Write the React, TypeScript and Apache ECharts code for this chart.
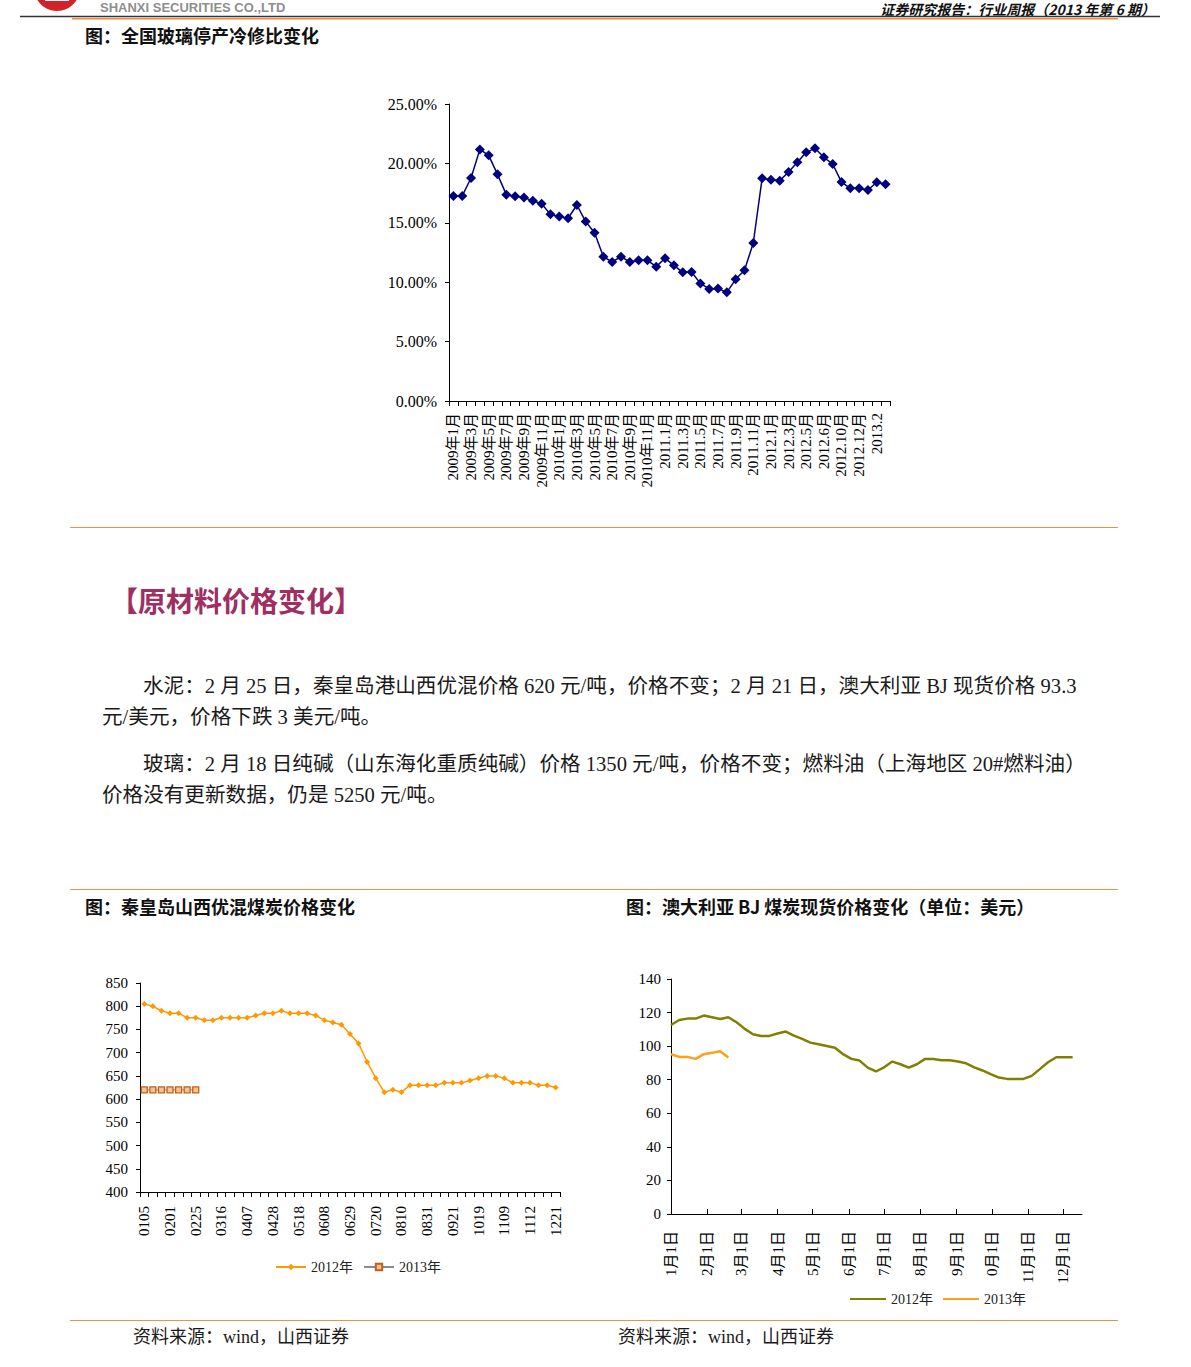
import React, { useEffect, useRef } from "react";
import * as echarts from "echarts";

// ---------- Chart 1: 全国玻璃停产冷修比 ----------
const GLASS_CATEGORIES = [
  "2009年1月", "2009年2月", "2009年3月", "2009年4月", "2009年5月", "2009年6月",
  "2009年7月", "2009年8月", "2009年9月", "2009年10月", "2009年11月", "2009年12月",
  "2010年1月", "2010年2月", "2010年3月", "2010年4月", "2010年5月", "2010年6月",
  "2010年7月", "2010年8月", "2010年9月", "2010年10月", "2010年11月", "2010年12月",
  "2011.1月", "2011.2月", "2011.3月", "2011.4月", "2011.5月", "2011.6月",
  "2011.7月", "2011.8月", "2011.9月", "2011.10月", "2011.11月", "2011.12月",
  "2012.1月", "2012.2月", "2012.3月", "2012.4月", "2012.5月", "2012.5月下",
  "2012.6月", "2012.8月", "2012.10月", "2012.11月", "2012.12月", "2013.1",
  "2013.2", "2013.3",
];
const GLASS_RATIO = [
  17.26, 17.26, 18.77, 21.18, 20.68, 19.08, 17.37, 17.23, 17.12, 16.86,
  16.61, 15.71, 15.52, 15.38, 16.5, 15.1, 14.17, 12.15, 11.7, 12.15,
  11.7, 11.84, 11.84, 11.31, 12.01, 11.42, 10.83, 10.86, 9.9, 9.43,
  9.46, 9.15, 10.24, 11.0, 13.3, 18.74, 18.63, 18.55, 19.28, 20.09,
  20.93, 21.27, 20.51, 19.95, 18.43, 17.9, 17.9, 17.76, 18.41, 18.24,
];

// ---------- Chart 2: 秦皇岛山西优混煤炭价格 ----------
const COAL_DATES = [
  "0105", "0112", "0119", "0201", "0208", "0215", "0225", "0302", "0309", "0316",
  "0323", "0330", "0407", "0414", "0421", "0428", "0505", "0511", "0518", "0525",
  "0601", "0608", "0615", "0622", "0629", "0706", "0713", "0720", "0727", "0803",
  "0810", "0817", "0824", "0831", "0907", "0914", "0921", "0928", "1012", "1019",
  "1026", "1102", "1109", "1110", "1111", "1112", "1207", "1214", "1221",
];
const COAL_2012 = [
  805, 800, 790, 785, 785, 775, 775, 770, 770, 775,
  775, 775, 775, 780, 785, 785, 790, 785, 785, 785,
  780, 770, 765, 760, 740, 720, 680, 645, 615, 620,
  615, 630, 630, 630, 630, 635, 635, 635, 640, 645,
  650, 650, 645, 635, 635, 635, 630, 630, 625,
];
const COAL_2013 = [620, 620, 620, 620, 620, 620, 620];

// ---------- Chart 3: 澳大利亚 BJ 煤炭现货价格 ----------
const BJ_DAYS = [
  0, 7, 14, 21, 28, 35, 42, 49, 56, 63,
  70, 77, 84, 91, 98, 105, 112, 119, 126, 133,
  140, 147, 154, 161, 168, 175, 182, 189, 196, 203,
  210, 217, 224, 231, 238, 245, 252, 259, 266, 273,
  280, 287, 294, 301, 308, 315, 322, 329, 336, 343,
];
const BJ_2012 = [
  112.6, 115.6, 116.4, 116.4, 118.2, 117.2, 116.2, 117.2, 114.2, 110.3,
  107.1, 106.1, 106.1, 107.5, 108.7, 106.3, 104.3, 102.1, 101.1, 100.1,
  99.1, 95.2, 92.4, 91.4, 87.2, 84.9, 87.4, 90.8, 89.2, 87.2,
  89.2, 92.4, 92.4, 91.6, 91.6, 90.8, 89.8, 87.4, 85.5, 83.3,
  81.3, 80.5, 80.5, 80.5, 82.3, 86.3, 90.4, 93.4, 93.4, 93.4,
];
const BJ_2013 = [95.2, 93.6, 93.6, 92.4, 95.2, 96.0, 97.0, 93.3];
const MONTH_START_DAYS = [0, 31, 60, 91, 121, 152, 182, 213, 244, 274, 305, 335];
const MONTH_LABELS = [
  "1月1日", "2月1日", "3月1日", "4月1日", "5月1日", "6月1日",
  "7月1日", "8月1日", "9月1日", "0月1日", "11月1日", "12月1日",
];

// ---------- Page texts ----------
const PARA_LINES = [
  "水泥：2 月 25 日，秦皇岛港山西优混价格 620 元/吨，价格不变；2 月 21 日，澳大利亚 BJ 现货价格 93.3",
  "元/美元，价格下跌 3 美元/吨。",
  "玻璃：2 月 18 日纯碱（山东海化重质纯碱）价格 1350 元/吨，价格不变；燃料油（上海地区 20#燃料油）",
  "价格没有更新数据，仍是 5250 元/吨。",
];

const SERIF = "'Liberation Serif', 'Noto Sans CJK SC', serif";
const SANS = "'Noto Sans CJK SC', 'Liberation Sans', sans-serif";
const ORANGE_RULE = "#EE9150";

function axisBase() {
  return {
    axisLine: { show: true, onZero: false, lineStyle: { color: "#000", width: 1 } },
    splitLine: { show: false },
  };
}

export default function App() {
  const ref = useRef<HTMLDivElement>(null);

  useEffect(() => {
    if (!ref.current) return;
    const chart = echarts.init(ref.current, undefined, { renderer: "svg" });

    const txt = (
      text: string,
      x: number,
      y: number,
      opts: Record<string, any> = {}
    ) => ({
      type: "text",
      x,
      y,
      silent: true,
      style: {
        text,
        fill: opts.fill || "#111",
        fontSize: opts.fontSize || 16,
        fontFamily: opts.fontFamily || SANS,
        fontWeight: opts.fontWeight || "normal",
        fontStyle: opts.fontStyle || "normal",
        align: opts.align || "left",
        verticalAlign: "middle",
      },
    });
    const rule = (x1: number, y: number, x2: number, stroke: string, lw = 1) => ({
      type: "line",
      silent: true,
      shape: { x1, y1: y, x2, y2: y },
      style: { stroke, lineWidth: lw },
    });

    const option: any = {
      animation: false,
      backgroundColor: "#fff",
      grid: [
        { left: 449, top: 104, width: 441, height: 297 },
        { left: 140, top: 983, width: 420, height: 209 },
        { left: 671, top: 979, width: 411, height: 235 },
      ],
      xAxis: [
        {
          type: "category",
          gridIndex: 0,
          data: GLASS_CATEGORIES,
          boundaryGap: true,
          ...axisBase(),
          axisTick: { show: true, interval: 0, length: 5, lineStyle: { color: "#000" } },
          axisLabel: {
            interval: 1,
            rotate: 90,
            margin: 12,
            fontSize: 15,
            fontFamily: SERIF,
            color: "#000",
          },
        },
        {
          type: "category",
          gridIndex: 1,
          data: COAL_DATES,
          boundaryGap: true,
          ...axisBase(),
          axisTick: { show: true, interval: 0, length: 5, lineStyle: { color: "#000" } },
          axisLabel: {
            interval: 2,
            rotate: 90,
            margin: 14,
            fontSize: 15,
            fontFamily: SERIF,
            color: "#000",
          },
        },
        {
          type: "value",
          gridIndex: 2,
          min: 0,
          max: 351,
          ...axisBase(),
          axisTick: {
            show: true,
            inside: true,
            length: 5,
            customValues: MONTH_START_DAYS,
            lineStyle: { color: "#000" },
          },
          axisLabel: {
            customValues: MONTH_START_DAYS,
            rotate: 90,
            margin: 17,
            fontSize: 15,
            fontFamily: SERIF,
            color: "#000",
            formatter: (v: number) => {
              const i = MONTH_START_DAYS.indexOf(Math.round(v));
              return i >= 0 ? MONTH_LABELS[i] : "";
            },
          },
        },
      ],
      yAxis: [
        {
          type: "value",
          gridIndex: 0,
          min: 0,
          max: 25,
          interval: 5,
          ...axisBase(),
          axisTick: { show: true, length: 4, lineStyle: { color: "#000" } },
          axisLabel: {
            margin: 12,
            fontSize: 16,
            fontFamily: SERIF,
            color: "#000",
            formatter: (v: number) => v.toFixed(2) + "%",
          },
        },
        {
          type: "value",
          gridIndex: 1,
          min: 400,
          max: 850,
          interval: 50,
          ...axisBase(),
          axisTick: { show: true, length: 4, lineStyle: { color: "#000" } },
          axisLabel: { margin: 12, fontSize: 15, fontFamily: SERIF, color: "#000" },
        },
        {
          type: "value",
          gridIndex: 2,
          min: 0,
          max: 140,
          interval: 20,
          ...axisBase(),
          axisTick: { show: true, length: 4, lineStyle: { color: "#000" } },
          axisLabel: { margin: 10, fontSize: 15, fontFamily: SERIF, color: "#000" },
        },
      ],
      legend: [
        {
          data: ["2012年", "2013年"],
          left: 270,
          top: 1255,
          itemWidth: 30,
          itemHeight: 8,
          itemGap: 10,
          selectedMode: false,
          textStyle: { fontSize: 14, fontFamily: SERIF, color: "#222" },
        },
        {
          data: [
            { name: "BJ 2012年", icon: "rect" },
            { name: "BJ 2013年", icon: "rect" },
          ],
          left: 845,
          top: 1287,
          itemWidth: 36,
          itemHeight: 2,
          itemGap: 10,
          selectedMode: false,
          formatter: (n: string) => n.replace("BJ ", ""),
          textStyle: { fontSize: 14, fontFamily: SERIF, color: "#222" },
        },
      ],
      series: [
        {
          type: "line",
          name: "冷修比",
          xAxisIndex: 0,
          yAxisIndex: 0,
          data: GLASS_RATIO,
          symbol: "diamond",
          symbolSize: 10,
          showAllSymbol: true,
          itemStyle: { color: "#000080" },
          lineStyle: { color: "#000080", width: 1.5 },
        },
        {
          type: "line",
          name: "2012年",
          xAxisIndex: 1,
          yAxisIndex: 1,
          data: COAL_2012,
          symbol: "diamond",
          symbolSize: 6,
          showAllSymbol: true,
          itemStyle: { color: "#FF9900" },
          lineStyle: { color: "#FF9900", width: 1.5 },
        },
        {
          type: "line",
          name: "2013年",
          xAxisIndex: 1,
          yAxisIndex: 1,
          data: COAL_2013,
          symbol: "rect",
          symbolSize: 6,
          showAllSymbol: true,
          itemStyle: { color: "#F6C292", borderColor: "#C0601F", borderWidth: 1.3 },
          lineStyle: { color: "#8C8C8C", width: 1 },
        },
        {
          type: "line",
          name: "BJ 2012年",
          xAxisIndex: 2,
          yAxisIndex: 2,
          data: BJ_DAYS.map((d, i) => [d, BJ_2012[i]]),
          symbol: "none",
          itemStyle: { color: "#808000" },
          lineStyle: { color: "#808000", width: 2.5 },
        },
        {
          type: "line",
          name: "BJ 2013年",
          xAxisIndex: 2,
          yAxisIndex: 2,
          data: BJ_2013.map((v, i) => [BJ_DAYS[i], v]),
          symbol: "none",
          itemStyle: { color: "#FF9F1A" },
          lineStyle: { color: "#FF9F1A", width: 2.5 },
        },
      ],
      graphic: [
        // header logo
        {
          type: "circle",
          silent: true,
          shape: { cx: 57, cy: -12, r: 23 },
          style: { fill: "#D2232A" },
        },
        {
          type: "rect",
          silent: true,
          shape: { x: 45, y: -4, width: 24, height: 5 },
          style: { fill: "#fff" },
        },
        txt("SHANXI SECURITIES CO.,LTD", 100, 7, {
          fontSize: 13,
          fontWeight: "bold",
          fill: "#8E8E8E",
          fontFamily: "'Liberation Sans', Arial, sans-serif",
        }),
        txt("证券研究报告：行业周报（2013 年第 6 期）", 1155, 8.5, {
          fontSize: 14,
          fontWeight: "bold",
          fontStyle: "italic",
          align: "right",
          fill: "#111",
        }),
        rule(20, 16.5, 1160, "#333", 1.5),
        rule(72, 18.8, 1118, "#F08A3A", 1.5),
        // chart titles
        txt("图：全国玻璃停产冷修比变化", 85, 35, { fontSize: 18, fontWeight: "bold" }),
        rule(70, 527.5, 1118, ORANGE_RULE, 1),
        // section heading
        txt("【原材料价格变化】", 110, 600, {
          fontSize: 28,
          fontWeight: "bold",
          fill: "#9E2F62",
        }),
        // body text
        txt(PARA_LINES[0], 143, 686, { fontSize: 20.6, fontFamily: SERIF, fill: "#1a1a1a" }),
        txt(PARA_LINES[1], 102, 717, { fontSize: 20.6, fontFamily: SERIF, fill: "#1a1a1a" }),
        txt(PARA_LINES[2], 143, 764, { fontSize: 20.6, fontFamily: SERIF, fill: "#1a1a1a" }),
        txt(PARA_LINES[3], 102, 795, { fontSize: 20.6, fontFamily: SERIF, fill: "#1a1a1a" }),
        rule(70, 889.5, 1118, ORANGE_RULE, 1),
        txt("图：秦皇岛山西优混煤炭价格变化", 85, 906, { fontSize: 18, fontWeight: "bold" }),
        txt("图：澳大利亚 BJ 煤炭现货价格变化（单位：美元）", 626, 906, {
          fontSize: 18,
          fontWeight: "bold",
        }),
        rule(70, 1320.5, 1118, ORANGE_RULE, 1),
        txt("资料来源：wind，山西证券", 133, 1337, { fontSize: 18, fontFamily: SERIF, fill: "#1a1a1a" }),
        txt("资料来源：wind，山西证券", 618, 1337, { fontSize: 18, fontFamily: SERIF, fill: "#1a1a1a" }),
      ],
    };

    chart.setOption(option);
    return () => chart.dispose();
  }, []);

  return (
    <div
      ref={ref}
      style={{ position: "absolute", left: 0, top: 0, width: 1191, height: 1367, background: "#fff" }}
    />
  );
}
